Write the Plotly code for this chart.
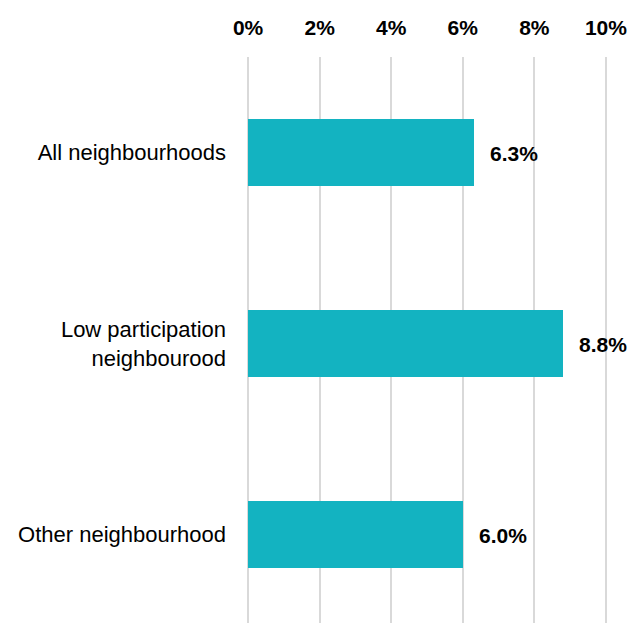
import plotly.graph_objects as go

categories = ["All neighbourhoods", "Low participation<br>neighbourood", "Other neighbourhood"]
values = [6.3, 8.8, 6.0]
value_labels = ["6.3%", "8.8%", "6.0%"]
x_ticks = [0, 2, 4, 6, 8, 10]
x_tick_labels = ["0%", "2%", "4%", "6%", "8%", "10%"]

positions = list(range(len(categories)))

fig = go.Figure()
fig.add_trace(go.Bar(
    x=values, y=positions, orientation="h",
    marker=dict(color="#13B3C1", line=dict(width=0)),
    width=0.35, hoverinfo="skip",
))

for p, v, t in zip(positions, values, value_labels):
    fig.add_annotation(
        x=v, y=p, text="<b>" + t + "</b>", showarrow=False,
        xanchor="left", yanchor="middle", xshift=14, yshift=-1,
        font=dict(family="Liberation Sans Narrow, Arial Narrow, sans-serif", size=21, color="#000000"),
    )

fig.update_layout(
    width=628, height=623,
    margin=dict(l=247, r=21, t=57, b=0),
    paper_bgcolor="white", plot_bgcolor="white",
    showlegend=False,
    bargap=0,
)
fig.update_xaxes(
    side="top", range=[-0.03, 10.03], tickvals=x_ticks, ticktext=["<b>" + s + "</b>" for s in x_tick_labels],
    showgrid=True, gridcolor="#D9D9D9", gridwidth=2, zeroline=False, showline=False,
    ticks="", ticklabelstandoff=17,
    tickfont=dict(family="Liberation Sans Narrow, Arial Narrow, sans-serif", size=21, color="#000000"),
)
fig.update_yaxes(
    range=[2.463, -0.5], tickvals=positions, ticktext=categories,
    showgrid=False, zeroline=False, showline=False, ticks="", ticklabelstandoff=20,
    tickfont=dict(family="Liberation Sans, Arial, sans-serif", size=22, color="#000000"),
)

fig.write_html(
    "out.html",
    config={"displayModeBar": False, "staticPlot": True},
    post_script="document.body.style.margin='0';document.body.style.overflow='hidden';",
)
